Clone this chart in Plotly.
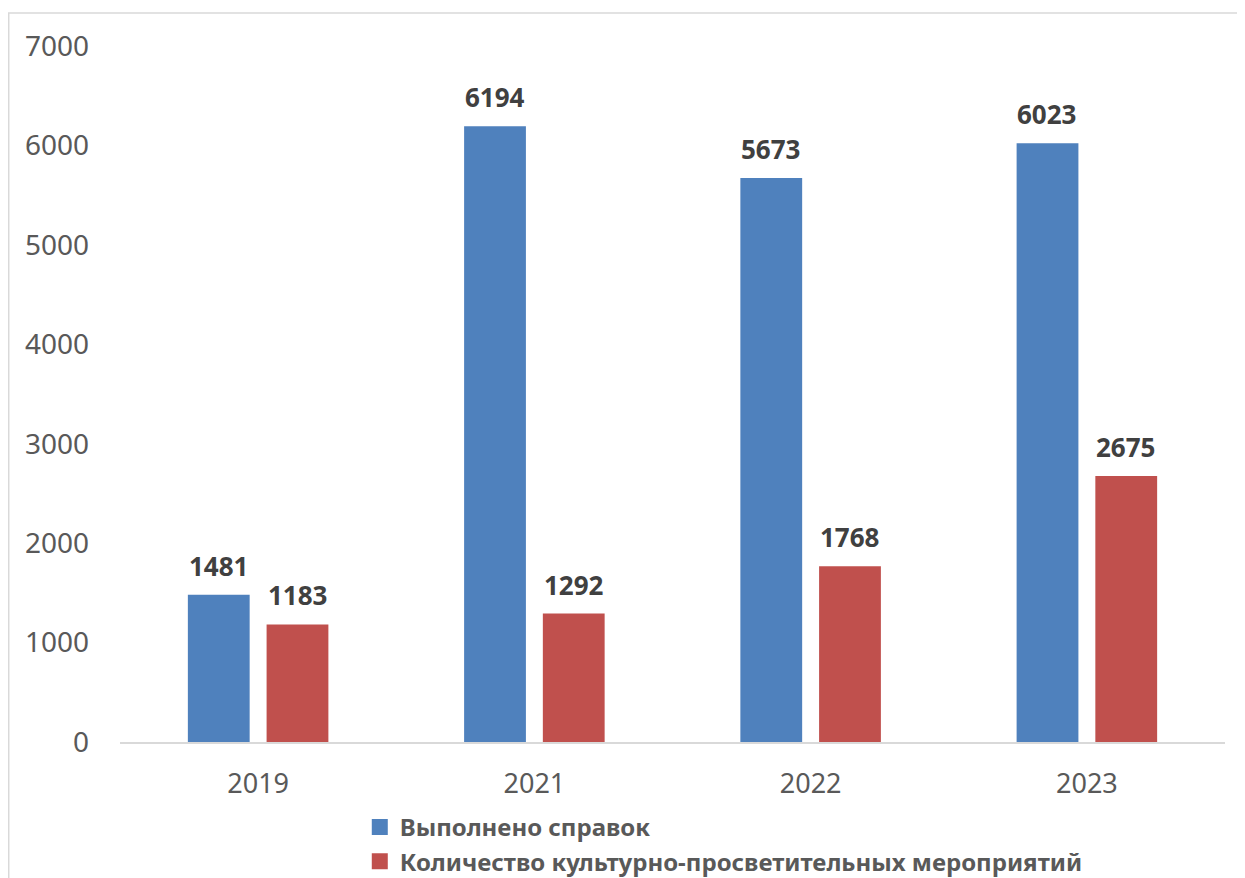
import plotly.graph_objects as go

categories = ["2019", "2021", "2022", "2023"]
series1_name = "Выполнено справок"
series1 = [1481, 6194, 5673, 6023]
series2_name = "Количество культурно-просветительных мероприятий"
series2 = [1183, 1292, 1768, 2675]
y_ticks = [0, 1000, 2000, 3000, 4000, 5000, 6000, 7000]

FONT = "Noto Sans"
BLUE = "#4f81bd"
RED = "#c0504d"

fig = go.Figure()
fig.add_trace(go.Bar(x=categories, y=series1, name=series1_name, showlegend=False,
                     marker=dict(color=BLUE, line=dict(width=0))))
fig.add_trace(go.Bar(x=categories, y=series2, name=series2_name, showlegend=False,
                     marker=dict(color=RED, line=dict(width=0))))
# legend entries with larger square swatches
for name, color in ((series1_name, BLUE), (series2_name, RED)):
    fig.add_trace(go.Scatter(x=[None], y=[None], mode="markers", name=name,
                             marker=dict(symbol="square", size=20, color=color)))

annotations = []
for i, (v1, v2) in enumerate(zip(series1, series2)):
    for v, shift in ((v1, -39.5), (v2, 39.5)):
        annotations.append(dict(x=i, y=v, xref="x", yref="y", text=str(v),
                                showarrow=False, xshift=shift, yshift=9,
                                yanchor="bottom",
                                font=dict(family=FONT, size=26, color="#404040", weight="bold")))

fig.update_layout(
    width=1237, height=870,
    margin=dict(l=112, r=20, t=38, b=136, autoexpand=False),
    paper_bgcolor="white", plot_bgcolor="white",
    barmode="group", bargap=0.43, bargroupgap=0.215,
    font=dict(family=FONT, color="#595959"),
    annotations=annotations,
    showlegend=True,
    legend=dict(orientation="v", x=0.217, y=-0.0905, xanchor="left", yanchor="top",
                font=dict(family=FONT, size=24, color="#595959", weight="bold"),
                tracegroupgap=4, itemwidth=30, itemsizing="trace",
                bgcolor="rgba(0,0,0,0)"),
    shapes=[dict(type="rect", xref="paper", yref="paper",
                 x0=-0.1007, x1=1.1, y0=-0.3, y1=1.0474,
                 line=dict(color="#d9d9d9", width=1.5), layer="below")],
)
fig.update_yaxes(range=[0, 7000], tickvals=y_ticks, showgrid=False, zeroline=False,
                 showline=False, ticks="", ticklabelstandoff=30, automargin=False,
                 tickfont=dict(family=FONT, size=28, color="#595959"))
fig.update_xaxes(type="category", range=[-0.5, 3.5], autorange=False, automargin=False,
                 showgrid=False, showline=True, linecolor="#d9d9d9",
                 linewidth=1.5, ticks="", ticklabelstandoff=17,
                 tickfont=dict(family=FONT, size=27, color="#595959"))

fig.write_html("out.html")
